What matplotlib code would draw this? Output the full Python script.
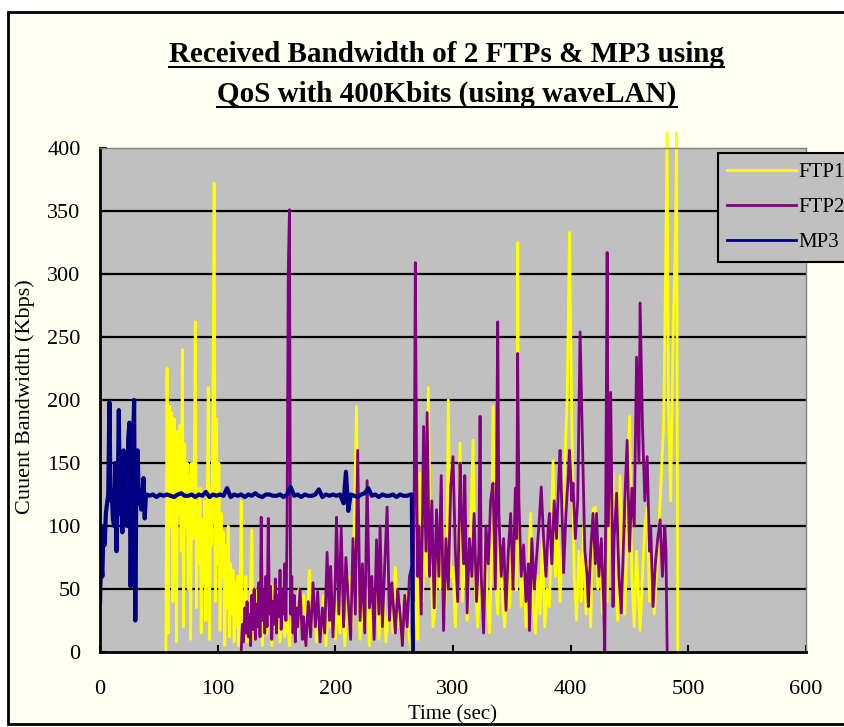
import matplotlib
matplotlib.use("Agg")
import matplotlib.pyplot as plt
from matplotlib.lines import Line2D
from matplotlib.patches import Rectangle

# (time sec, bandwidth Kbps)
ftp1 = [(56, 0), (57, 225), (58, 15), (59, 195), (60, 100), (61, 190), (62, 40), (63, 185),
        (64, 140), (65, 8), (66, 175), (67, 110), (68, 180), (69, 80), (70, 240), (71, 20),
        (72, 165), (73, 100), (74, 150), (75, 50), (76, 140), (77, 10), (78, 150), (79, 90),
        (80, 125), (81, 262), (82, 35), (83, 115), (84, 70), (85, 130), (86, 15), (87, 105),
        (88, 55), (89, 120), (90, 25), (91, 100), (92, 210), (93, 10), (94, 130), (95, 85),
        (96, 200), (97, 372), (98, 40), (99, 185), (100, 70), (101, 150), (102, 17), (103, 110),
        (104, 60), (105, 95), (106, 5), (107, 85), (108, 35), (109, 100), (110, 12), (111, 70),
        (112, 30), (113, 65), (114, 8), (115, 55), (116, 20), (117, 60), (118, 5), (119, 50),
        (120, 120), (121, 15), (122, 45), (123, 12), (124, 60), (125, 8), (126, 40), (127, 20),
        (129, 97), (130, 10), (132, 50), (134, 20), (136, 60), (138, 5), (140, 45), (142, 15),
        (144, 55), (146, 5), (147, 52), (149, 20), (151, 40), (153, 8), (155, 35), (157, 12),
        (159, 30), (161, 5), (163, 25), (165, 40), (167, 10), (169, 50), (171, 20), (173, 45),
        (175, 5), (178, 65), (180, 20), (182, 40), (184, 8), (186, 30), (188, 15), (190, 45),
        (192, 5), (194, 35), (196, 20), (198, 50), (200, 10), (202, 40), (204, 15), (206, 55),
        (208, 5), (210, 30), (212, 60), (214, 20), (216, 100), (218, 195), (219, 60), (221, 10),
        (223, 40), (225, 15), (227, 50), (229, 5), (231, 45), (233, 20), (235, 60), (237, 10),
        (239, 35), (241, 50), (243, 8), (245, 30), (247, 55), (249, 15), (251, 67), (253, 20),
        (255, 40), (257, 5), (259, 25), (261, 45), (263, 10), (265, 0), (267, 20), (269, 60),
        (270, 10), (272, 142), (274, 40), (276, 90), (278, 60), (279, 210), (281, 80), (283, 20),
        (285, 37), (287, 100), (289, 50), (291, 120), (293, 30), (295, 90), (296, 200), (298, 60),
        (300, 67), (302, 20), (304, 80), (306, 166), (308, 40), (310, 90), (312, 25), (314, 60),
        (317, 168), (319, 50), (321, 20), (323, 70), (325, 30), (327, 90), (329, 45), (331, 15),
        (333, 80), (334, 195), (336, 60), (338, 30), (340, 100), (342, 40), (344, 20), (346, 70),
        (348, 35), (350, 90), (352, 60), (354, 49), (355, 325), (356, 100), (358, 36), (360, 80),
        (362, 20), (364, 60), (366, 110), (368, 40), (370, 15), (372, 60), (374, 30), (376, 90),
        (378, 20), (380, 50), (382, 36), (385, 152), (387, 60), (389, 100), (391, 40), (393, 90),
        (395, 150), (397, 200), (399, 333), (401, 180), (403, 60), (405, 25), (407, 80), (409, 40),
        (411, 100), (413, 30), (415, 70), (417, 20), (419, 113), (421, 115), (423, 50), (425, 90),
        (427, 30), (429, 80), (431, 40), (433, 100), (436, 142), (438, 60), (440, 25), (442, 140),
        (444, 70), (446, 30), (448, 90), (450, 187), (452, 60), (454, 20), (456, 80), (459, 17),
        (461, 60), (463, 100), (465, 115), (467, 40), (469, 80), (471, 30), (473, 60), (475, 100),
        (477, 140), (479, 180), (480, 250), (481, 330), (482, 412), (483, 200), (485, 120),
        (487, 250), (489, 330), (490, 412), (491, 0)]

ftp2 = [(120, 0), (121, 22), (122, 8), (123, 35), (124, 15), (125, 40), (126, 12), (127, 30),
        (128, 5), (129, 45), (130, 18), (131, 50), (132, 10), (133, 38), (134, 20), (135, 55),
        (136, 12), (137, 107), (138, 25), (139, 48), (140, 15), (141, 60), (142, 20), (143, 106),
        (144, 30), (145, 52), (146, 10), (147, 40), (148, 22), (149, 58), (150, 15), (151, 45),
        (152, 28), (153, 65), (154, 18), (155, 50), (156, 30), (157, 70), (158, 25), (159, 100),
        (160, 303), (161, 351), (162, 30), (163, 60), (164, 15), (165, 45), (166, 8), (167, 35),
        (168, 20), (170, 50), (172, 10), (173, 28), (175, 5), (177, 40), (179, 12), (181, 55),
        (183, 20), (185, 48), (187, 8), (189, 35), (191, 15), (193, 79), (195, 25), (196, 68),
        (198, 12), (200, 60), (201, 107), (203, 30), (205, 99), (207, 20), (209, 75), (211, 40),
        (213, 10), (215, 90), (217, 30), (219, 160), (221, 25), (223, 70), (225, 15), (227, 136),
        (229, 35), (231, 60), (233, 10), (235, 89), (237, 30), (238, 100), (240, 20), (242, 70),
        (244, 115), (246, 25), (248, 55), (249, 41), (251, 15), (253, 50), (255, 31), (257, 5),
        (259, 45), (261, 20), (263, 60), (265, 68), (266, 40), (267, 120), (268, 309), (269, 150),
        (270, 60), (271, 100), (273, 30), (275, 179), (277, 80), (278, 190), (280, 60), (282, 120),
        (284, 35), (286, 113), (288, 60), (290, 140), (292, 17), (294, 90), (296, 50), (298, 130),
        (300, 155), (302, 80), (304, 40), (306, 150), (307, 120), (309, 70), (310, 140), (312, 31),
        (314, 90), (316, 60), (318, 110), (320, 40), (322, 80), (323, 187), (324, 60), (326, 15),
        (328, 100), (330, 70), (332, 120), (334, 134), (336, 50), (337, 140), (338, 262), (339, 110),
        (341, 60), (343, 90), (345, 33), (347, 80), (349, 110), (351, 50), (353, 130), (354, 90),
        (355, 237), (356, 120), (358, 60), (360, 85), (362, 40), (364, 70), (365, 17), (367, 90),
        (369, 50), (371, 75), (373, 100), (375, 131), (377, 90), (379, 60), (381, 100), (382, 110),
        (384, 70), (386, 120), (388, 90), (390, 140), (391, 160), (393, 100), (394, 63), (396, 110),
        (398, 140), (399, 160), (401, 120), (402, 134), (404, 90), (406, 120), (408, 254), (410, 166),
        (412, 81), (414, 60), (415, 36), (417, 80), (419, 110), (421, 70), (422, 110), (424, 60),
        (426, 90), (428, 40), (429, 0), (430, 150), (431, 317), (432, 100), (434, 206), (436, 36),
        (437, 90), (439, 126), (441, 60), (443, 31), (445, 89), (446, 120), (448, 168), (450, 80),
        (452, 130), (454, 100), (456, 234), (458, 150), (459, 277), (461, 180), (463, 120),
        (465, 155), (467, 80), (468, 100), (470, 36), (472, 70), (474, 90), (476, 105), (478, 60),
        (480, 100), (481, 80), (482, 0)]

mp3 = [(0, 40), (1, 75), (2, 60), (3, 100), (4, 85), (5, 110), (6, 118), (7, 125), (8, 198),
       (9, 120), (10, 128), (11, 105), (12, 100), (13, 150), (14, 80), (15, 120), (16, 192),
       (17, 110), (18, 150), (19, 95), (20, 160), (21, 130), (22, 152), (23, 100), (24, 170),
       (25, 182), (26, 52), (27, 130), (28, 160), (29, 200), (30, 25), (31, 150), (32, 160),
       (33, 118), (34, 126), (35, 113), (36, 125), (37, 138), (38, 106), (39, 124), (40, 125),
       (42, 124), (45, 125), (48, 123), (51, 125), (54, 124), (57, 125), (60, 124), (63, 123),
       (66, 125), (69, 126), (72, 124), (75, 124), (78, 125), (81, 123), (84, 125), (87, 124),
       (90, 127), (93, 123), (96, 125), (99, 124), (102, 125), (105, 124), (108, 130), (111, 123),
       (114, 125), (117, 124), (120, 125), (123, 123), (126, 125), (129, 124), (132, 126),
       (135, 124), (138, 123), (141, 125), (144, 125), (147, 124), (150, 124), (153, 125),
       (156, 123), (159, 125), (162, 131), (165, 124), (168, 125), (171, 123), (174, 125),
       (177, 124), (180, 124), (183, 125), (186, 129), (189, 123), (192, 125), (195, 124),
       (198, 125), (201, 124), (204, 125), (207, 118), (209, 143), (211, 112), (213, 125),
       (216, 124), (219, 123), (222, 125), (225, 126), (228, 130), (231, 124), (234, 125),
       (237, 123), (240, 125), (243, 124), (246, 124), (249, 125), (252, 123), (255, 125),
       (258, 124), (261, 124), (264, 125), (265, 125), (266, 0)]

series_names = ["FTP1", "FTP2", "MP3"]
series_colors = ["#FFFF00", "#800080", "#000080"]
yticks = [0, 50, 100, 150, 200, 250, 300, 350, 400]
xticks = [0, 100, 200, 300, 400, 500, 600]

serif = "Liberation Serif"

fig = plt.figure(figsize=(8.45, 7.27), dpi=100, facecolor="white")
# chart area border
fig.add_artist(Rectangle((8 / 845, 3 / 727), 1.0, (727 - 12 - 3) / 727,
                         transform=fig.transFigure, facecolor="#FFFFF2",
                         edgecolor="black", lw=2, zorder=-10))

ax = fig.add_axes([100 / 845, 75 / 727, 706 / 845, 504 / 727])
ax.set_facecolor("#C0C0C0")

widths = [2.0, 2.0, 3.0]
for data, name, col, lw in zip([ftp1, ftp2, mp3], series_names, series_colors, widths):
    t = [p[0] for p in data]
    v = [p[1] for p in data]
    ax.plot(t, v, color=col, lw=lw, label=name, clip_on=(name != "FTP1"))

ax.set_xlim(0, 600)
ax.set_ylim(0, 400)
ax.set_xticks(xticks)
ax.set_yticks(yticks)
for y in yticks[1:-1]:
    ax.axhline(y, color="black", lw=1.6, zorder=0.5)

for s in ["left", "bottom"]:
    ax.spines[s].set_color("black")
    ax.spines[s].set_linewidth(2)
for s in ["top", "right"]:
    ax.spines[s].set_color("#808080")
    ax.spines[s].set_linewidth(1)

ax.tick_params(axis="x", direction="in", length=5, width=1.5, pad=20, labelsize=16)
ax.tick_params(axis="y", direction="in", length=5, width=1.5, pad=14, labelsize=16)
for lab in ax.get_xticklabels() + ax.get_yticklabels():
    lab.set_fontfamily(serif)

xl = ax.set_xlabel("Time (sec)", fontsize=15, family=serif)
xl.set_va("center")
ax.xaxis.set_label_coords(0.5, (652 - 715) / 504)
yl = ax.set_ylabel("Cuuent Bandwidth (Kbps)", fontsize=16, family=serif)
yl.set_va("center")
ax.yaxis.set_label_coords((25 - 100) / 706, (652 - 397) / 504)

leg = fig.legend(loc="upper left", bbox_to_anchor=(718 / 845, 1 - 153 / 727),
                 prop={"family": serif, "size": 15}, fancybox=False, framealpha=1,
                 facecolor="#C0C0C0", edgecolor="black", handlelength=3.3,
                 handletextpad=0.1, labelspacing=0.75, borderpad=0.45, borderaxespad=0)
leg.get_frame().set_linewidth(1.5)
for h in leg.get_lines():
    h.set_linewidth(2)

t1 = fig.text(447 / 845, 1 - 54 / 727, "Received Bandwidth of 2 FTPs & MP3 using",
              ha="center", va="center", fontsize=21, weight="bold", family=serif)
t2 = fig.text(447 / 845, 1 - 94 / 727, "QoS with 400Kbits (using waveLAN)",
              ha="center", va="center", fontsize=21, weight="bold", family=serif)

# underline the title lines
fig.canvas.draw()
r = fig.canvas.get_renderer()
for t in [t1, t2]:
    bb = t.get_window_extent(r)
    fig.add_artist(Line2D([bb.x0 / 845, bb.x1 / 845], [(bb.y0 + 1) / 727] * 2,
                          transform=fig.transFigure, color="black", lw=1.5))

fig.savefig("out.png", dpi=100, facecolor=fig.get_facecolor())
